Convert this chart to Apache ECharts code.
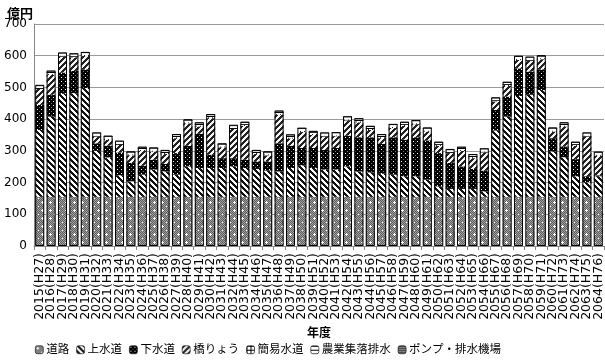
<!DOCTYPE html>
<html><head><meta charset="utf-8">
<script src="https://cdn.jsdelivr.net/npm/echarts@6/dist/echarts.min.js"></script>
<style>html,body{margin:0;padding:0;background:#fff}#c{width:605px;height:360px}</style>
</head><body><div id="c"></div>
<script>
const years = ['2015(H27)','2016(H28)','2017(H29)','2018(H30)','2019(H31)','2020(H32)','2021(H33)','2022(H34)','2023(H35)','2024(H36)',
'2025(H37)','2026(H38)','2027(H39)','2028(H40)','2029(H41)','2030(H42)','2031(H43)','2032(H44)','2033(H45)','2034(H46)',
'2035(H47)','2036(H48)','2037(H49)','2038(H50)','2039(H51)','2040(H52)','2041(H53)','2042(H54)','2043(H55)','2044(H56)',
'2045(H57)','2046(H58)','2047(H59)','2048(H60)','2049(H61)','2050(H62)','2051(H63)','2052(H64)','2053(H65)','2054(H66)',
'2055(H67)','2056(H68)','2057(H69)','2058(H70)','2059(H71)','2060(H72)','2061(H73)','2062(H74)','2063(H75)','2064(H76)'];
const seriesNames = ['道路','上水道','下水道','橋りょう','簡易水道','農業集落排水','ポンプ・排水機場'];
const yTicks = [0,100,200,300,400,500,600,700];
const doro = [155,155,155,155,155,155,155,155,155,155,155,155,155,155,155,155,155,155,155,155,155,155,155,155,155,
155,155,155,155,155,155,155,155,155,155,155,155,155,155,155,155,155,155,155,155,155,155,155,155,155];
const jousui = [211,253,325,327,343,145,124,68,49,70, 86,80,70,96,91,91,91,96,91,88, 83,80,91,99,91,86,86,96,80,77,
73,70,65,65,54,33,25,25,25,17, 209,253,318,322,337,143,125,65,46,65];
const gesui = [79,69,67,70,59,24,37,72,58,28, 31,24,68,65,108,42,31,26,26,24, 29,89,70,55,63,62,68,97,108,111,
94,118,115,123,124,105,82,71,63,66, 65,63,87,73,65,42,34,54,19,3];
const kyouryou = [50,63,50,43,42,21,19,24,24,47, 26,31,47,71,23,115,34,92,107,23, 19,90,23,51,41,42,37,48,47,23,
18,29,44,41,28,23,31,49,34,57, 27,34,27,34,32,21,63,42,125,62];
const kani = [3,3,3,3,3,3,3,3,3,3,3,3,3,3,3,3,3,3,3,3,3,3,3,3,3,3,3,3,3,3,3,3,3,3,3,3,3,3,3,3,3,3,3,3,3,3,3,3,3,3];
const nouson = [6,6,6,6,6,6,6,6,6,6,6,6,6,6,6,6,6,6,6,6,6,6,6,6,6,6,6,6,6,6,6,6,6,6,6,6,6,6,6,6,6,6,6,6,6,6,6,6,6,6];
const pump = [4,4,4,4,4,4,4,4,4,4,4,4,4,4,4,4,4,4,4,4,4,4,4,4,4,4,4,4,4,4,4,4,4,4,4,4,4,4,4,4,4,4,4,4,4,4,4,4,4,4];
const allData = [doro, jousui, gesui, kyouryou, kani, nouson, pump];
const totals = years.map((_, i) => allData.reduce((s, a) => s + a[i], 0));

function pat(size, fn) {
  const c = document.createElement('canvas'); c.width = size; c.height = size;
  const ctx = c.getContext('2d');
  for (let y = 0; y < size; y++) for (let x = 0; x < size; x++) { ctx.fillStyle = fn(x, y); ctx.fillRect(x, y, 1, 1); }
  return { image: c, repeat: 'repeat' };
}
const patterns = [
  pat(8, (x, y) => {
    if ((x === 2 && y === 2) || (x === 6 && y === 6) || (x===2&&(y===1||y===3)) || (y===2&&(x===1||x===3))) return '#ffffff';
    return (x + y) % 2 === 0 ? '#5e5e5e' : '#a0a0a0';
  }),
  pat(6, (x, y) => (((x - y) % 6 + 6) % 6 < 3 ? '#111111' : '#ffffff')),
  pat(4, (x, y) => (x === 1 && y === 1 ? '#ffffff' : (x === 3 && y === 3 ? '#777777' : '#000000'))),
  pat(6, (x, y) => ((x + y) % 6 < 3 ? '#222222' : '#f4f4f4')),
  pat(4, (x, y) => (x === 0 || y === 0 ? '#000000' : '#ffffff')),
  pat(4, (x, y) => (y === 0 ? '#000000' : '#ffffff')),
  pat(2, (x, y) => (y === 0 ? '#333333' : '#9a9a9a'))
];

const FONT = "'DejaVu Sans','Noto Sans CJK JP',sans-serif";
const chart = echarts.init(document.getElementById('c'), null, { renderer: 'canvas' });
const series = seriesNames.map((n, k) => ({
  name: n, type: 'bar', stack: 'total', data: allData[k], barWidth: 9,
  itemStyle: { color: patterns[k], borderWidth: 0 }, emphasis: { disabled: true }
}));
series.push({
  name: 'outline', type: 'bar', data: totals, barWidth: 9, barGap: '-100%', z: 5,
  itemStyle: { color: 'rgba(0,0,0,0)', borderColor: '#000', borderWidth: 1 },
  emphasis: { disabled: true }, silent: true
});
chart.setOption({
  animation: false,
  title: { text: '億円', left: 2, top: 3, textStyle: { fontSize: 13, fontWeight: 'bold', color: '#000', fontFamily: FONT } },
  grid: { left: 34, right: 1, top: 24, bottom: 114 },
  legend: {
    data: seriesNames, left: 30, top: 339, itemWidth: 8, itemHeight: 8, itemGap: 7,
    textStyle: { fontSize: 11.5, color: '#000', fontFamily: FONT, padding: [0, 0, 0, -2] },
    itemStyle: { borderColor: '#000', borderWidth: 0.6 }
  },
  xAxis: {
    type: 'category', data: years, name: '年度', nameLocation: 'middle', nameGap: 74,
    nameTextStyle: { fontSize: 12, fontWeight: 'bold', color: '#000', fontFamily: FONT },
    axisLine: { lineStyle: { color: '#888' } },
    axisTick: { show: true, length: 4, lineStyle: { color: '#888' } },
    axisLabel: { rotate: 90, interval: 0, fontSize: 12.5, color: '#000', margin: 7, fontFamily: FONT }
  },
  yAxis: {
    type: 'value', min: yTicks[0], max: yTicks[yTicks.length - 1], interval: 100,
    axisLine: { show: true, lineStyle: { color: '#888' } },
    axisTick: { show: false },
    axisLabel: { fontSize: 12, color: '#000', margin: 7, fontFamily: FONT },
    splitLine: { lineStyle: { color: '#9a9a9a', width: 1 } }
  },
  series: series
});
</script></body></html>
